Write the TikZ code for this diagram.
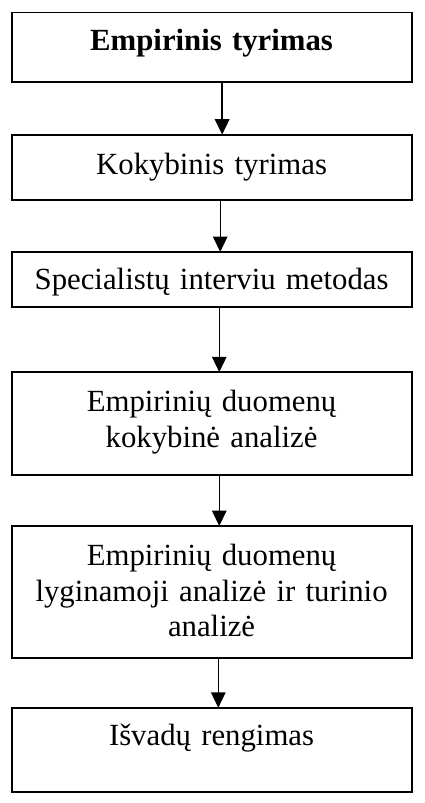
\documentclass[tikz,border=0pt]{standalone}
\usepackage{fontspec}
\setmainfont{Liberation Serif}
\usepackage{tikz}
\usetikzlibrary{arrows.meta}

\tikzset{
  stage/.style={draw, line width=2pt, anchor=north west, outer sep=0pt, inner xsep=0pt, inner ysep=0pt,
    text width=416pt, align=center, font=\fontsize{32}{37}\selectfont},
  flow/.style={line width=1.5pt, -{Triangle[length=16pt, width=15pt]}}
}

\begin{document}
\begin{tikzpicture}[x=1pt, y=-1pt]

  \useasboundingbox (0, 0) rectangle (441, 835);

  \node[stage, text height=40pt, text depth=32pt] (b1) at (12, 13) {\textbf{Empirinis tyrimas}};
  \node[stage, text height=41pt, text depth=27pt] (b2) at (12, 140) {Kokybinis tyrimas};
  \node[stage, text height=39pt, text depth=18pt] (b3) at (12, 262) {Specialistų interviu metodas};
  \node[stage, text height=41pt, text depth=66pt] (b4) at (12, 387) {Empirinių duomenų\\kokybinė analizė};
  \node[stage, text height=41pt, text depth=96pt] (b5) at (12, 547) {Empirinių duomenų\\lyginamoji analizė ir turinio\\analizė};
  \node[stage, text height=39pt, text depth=49pt] (b6) at (12, 736) {Išvadų rengimas};

  \foreach \from/\to/\dx in {b1/b2/11, b2/b3/9, b3/b4/8, b4/b5/8, b5/b6/7} {
    \draw[flow] ([xshift=\dx pt]\from.south) -- ([xshift=\dx pt]\to.north);
  }

\end{tikzpicture}
\end{document}
